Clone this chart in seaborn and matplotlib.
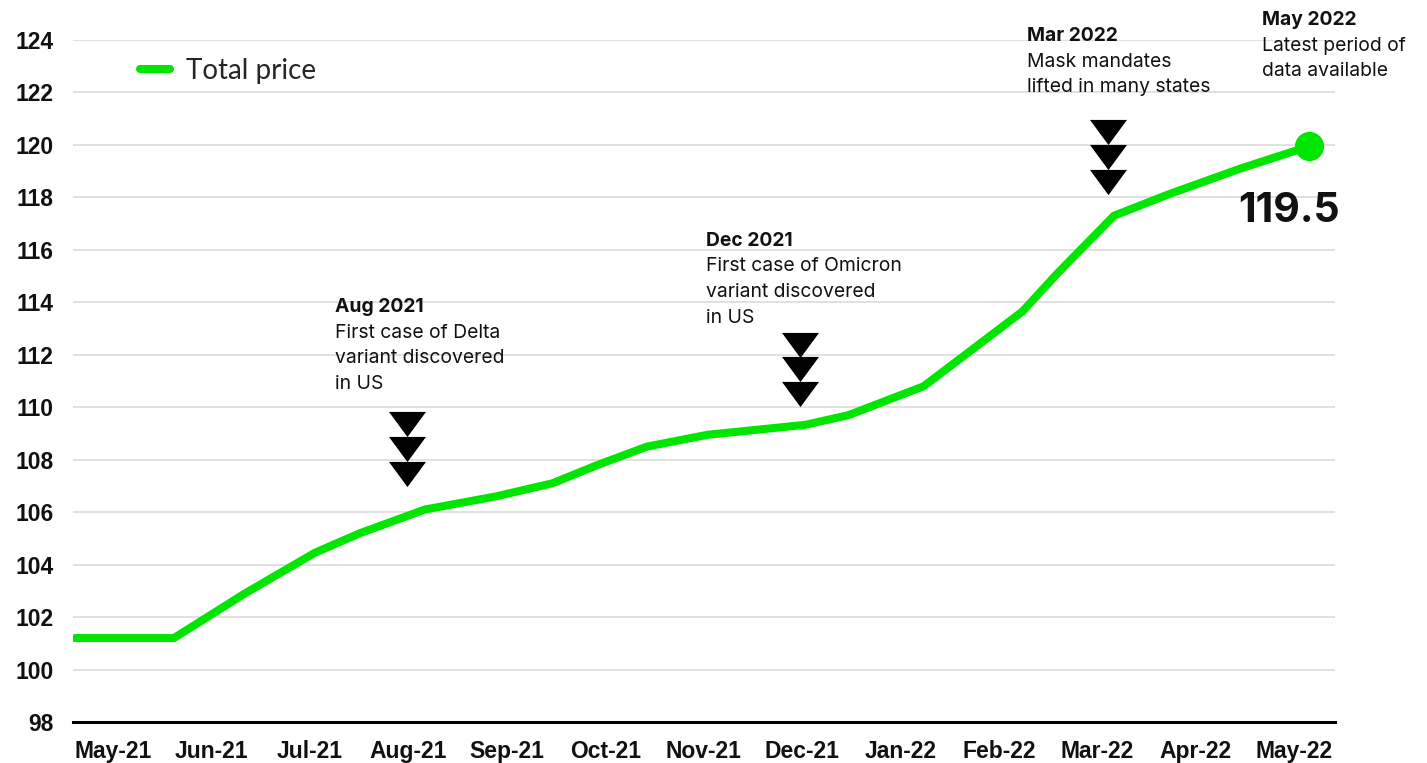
import matplotlib
matplotlib.use("Agg")
import matplotlib.pyplot as plt
import seaborn as sns
import pandas as pd

# months since May 2021 and the index value
months = [0, 0.96, 1.65, 2.33, 2.77, 3.4, 4.09, 4.64, 5.08, 5.56, 6.15, 7.1,
          7.52, 8.25, 9.21, 9.55, 10.1, 10.62, 11.33, 12.0]
price = [101.2, 101.2, 102.9, 104.45, 105.2, 106.1, 106.6, 107.1, 107.8, 108.5,
         108.95, 109.33, 109.7, 110.8, 113.65, 115.1, 117.3, 118.1, 119.1, 119.95]

month_labels = ['May-21', 'Jun-21', 'Jul-21', 'Aug-21', 'Sep-21', 'Oct-21', 'Nov-21',
                'Dec-21', 'Jan-22', 'Feb-22', 'Mar-22', 'Apr-22', 'May-22']
y_ticks = list(range(98, 125, 2))

# events: (month, header, body lines)
events = [
    (3.23, 'Aug 2021', ['First case of Delta', 'variant discovered', 'in US']),
    (7.05, 'Dec 2021', ['First case of Omicron', 'variant discovered', 'in US']),
    (10.04, 'Mar 2022', ['Mask mandates', 'lifted in many states']),
]
event_arrow_top = [109.37, 112.39, 120.5]
latest_label = '119.5'

green = '#00e600'
df = pd.DataFrame({'month': months, 'price': price})

sns.set_style('white')
plt.rcParams['font.family'] = ['Liberation Sans', 'DejaVu Sans']

fig = plt.figure(figsize=(14.27, 7.63), dpi=100)
ax = fig.add_axes([0.0512, 0.0537, 0.8844, 0.8939])

sns.lineplot(data=df, x='month', y='price', ax=ax, color=green, linewidth=5.8,
             label='Total price', solid_capstyle='round', solid_joinstyle='miter')
ax.plot(months[-1], price[-1], 'o', color=green, markersize=20, zorder=5)

ax.set_ylim(98, 124)
ax.set_xlim(-0.02, 12.25)
ax.set_yticks(y_ticks)
ax.set_yticklabels([str(t) for t in y_ticks], fontweight='bold', fontsize=16.5)
xt = [0.37 + i * (11.85 - 0.37) / 12 for i in range(13)]
ax.set_xticks(xt)
ax.set_xticklabels(month_labels, fontweight='bold', fontsize=16.5)
ax.tick_params(axis='both', length=0, colors='#111111')
ax.tick_params(axis='y', pad=14)
ax.tick_params(axis='x', pad=13)
ax.set_xlabel('')
ax.set_ylabel('')
ax.grid(axis='y', color='#d9d9d9', linewidth=1.1)
ax.grid(axis='x', visible=False)
for s in ['top', 'right', 'left']:
    ax.spines[s].set_visible(False)
ax.spines['bottom'].set_color('black')
ax.spines['bottom'].set_linewidth(2.2)
ax.spines['bottom'].set_zorder(4)

tri = [(-1, 0.68), (1, 0.68), (0, -0.68), (-1, 0.68)]
step = 0.95
for (m, head, body), top in zip(events, event_arrow_top):
    ys = [top - i * step for i in range(3)]
    ax.scatter([m] * 3, ys, marker=tri, s=710, color='black', linewidths=0, zorder=6)

text_pos = [(2.53, 113.82), (6.13, 116.34), (9.25, 124.15)]
ann_font = ['Inter', 'DejaVu Sans']
for (m, head, body), (tx, ty) in zip(events, text_pos):
    ax.annotate(head, xy=(tx, ty), ha='left', va='center', fontsize=13.9, fontweight='bold',
                family=ann_font, color='#111111', annotation_clip=False)
    for i, line in enumerate(body):
        ax.annotate(line, xy=(tx, ty), xytext=(0, -(i + 1) * 18.4), textcoords='offset points',
                    ha='left', va='center', fontsize=13.9, family=ann_font, color='#111111',
                    annotation_clip=False)

ax.annotate('May 2022', xy=(11.54, 124.76), ha='left', va='center', fontsize=13.9,
            fontweight='bold', family=ann_font, color='#111111', annotation_clip=False)
for i, line in enumerate(['Latest period of', 'data available']):
    ax.annotate(line, xy=(11.54, 124.76), xytext=(0, -(i + 1) * 18.4), textcoords='offset points',
                ha='left', va='center', fontsize=13.9, family=ann_font, color='#111111',
                annotation_clip=False)

ax.text(12.3, 117.48, latest_label, ha='right', va='center', fontsize=29.5,
        fontweight='bold', family=ann_font, color='#111111', clip_on=False)

leg = ax.legend(loc='upper left', bbox_to_anchor=(0.033, 1.01), frameon=False,
                handlelength=1.1, handletextpad=0.55,
                prop={'family': ['Lato', 'DejaVu Sans'], 'size': 20})

fig.savefig('out.png', dpi=100)
